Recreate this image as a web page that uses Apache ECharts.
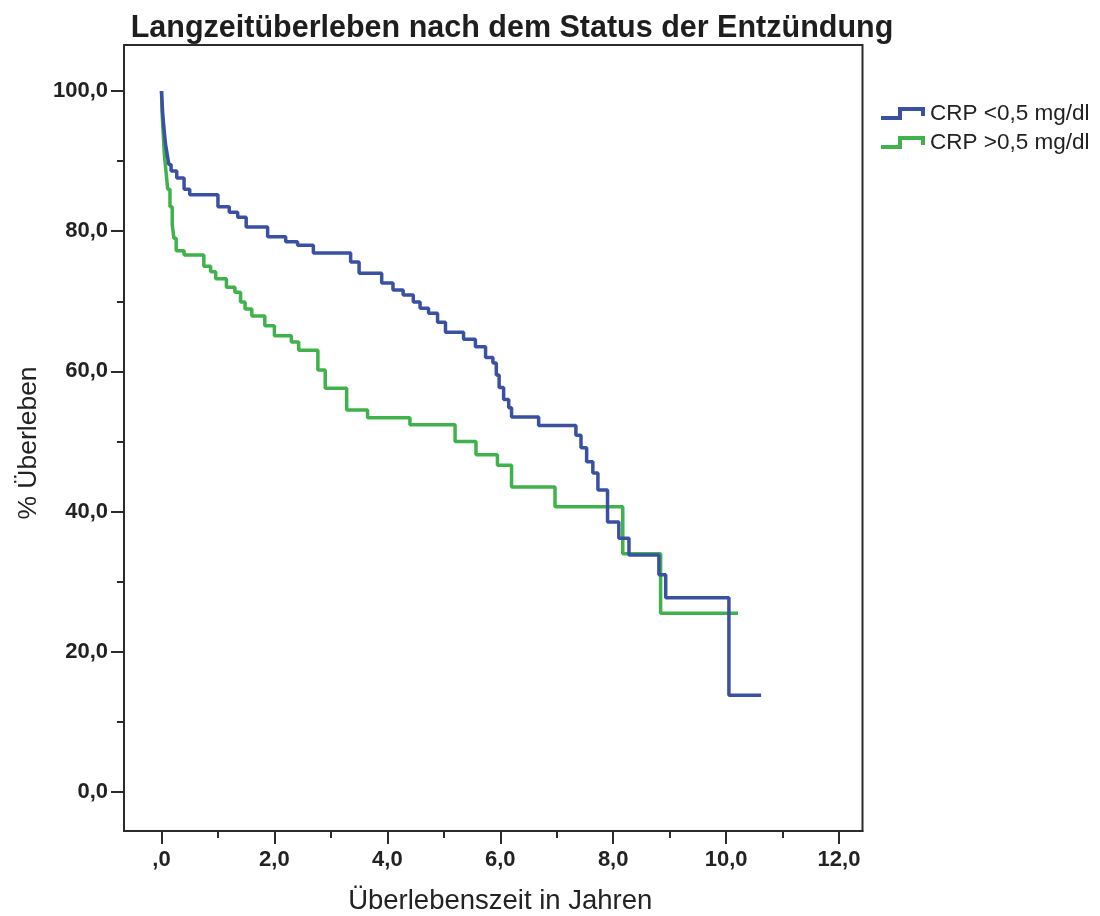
<!DOCTYPE html>
<html>
<head>
<meta charset="utf-8">
<script src="https://cdn.jsdelivr.net/npm/echarts@6/dist/echarts.min.js"></script>
<style>
html,body{margin:0;padding:0;background:#fff;}
#chart{width:1100px;height:916px;}
</style>
</head>
<body>
<div id="chart"></div>
<script>
// ---- Data ----
const seriesNames = ['CRP <0,5 mg/dl', 'CRP >0,5 mg/dl'];

// CRP <0,5 mg/dl : step drop times (years) and survival (%)
const blueTimes = [0, 0.02, 0.04, 0.07, 0.10, 0.13, 0.17, 0.27, 0.40, 0.50, 1.00, 1.20, 1.35, 1.50, 1.88, 2.20, 2.41, 2.69, 3.35, 3.50, 3.90, 4.10, 4.28, 4.46, 4.58, 4.73, 4.89, 5.03, 5.35, 5.56, 5.74, 5.87, 5.93, 5.98, 6.06, 6.15, 6.20, 6.68, 7.34, 7.43, 7.53, 7.64, 7.73, 7.90, 8.10, 8.28, 8.81, 8.93, 10.05, 10.62];
const blueSurv  = [100, 97, 95, 92.5, 91, 89.5, 88.6, 87.6, 86.0, 85.2, 83.5, 82.7, 82.0, 80.6, 79.2, 78.5, 78.0, 76.9, 75.6, 74.0, 72.6, 71.6, 70.9, 69.9, 69.0, 68.3, 67.0, 65.6, 64.6, 63.5, 62.0, 61.2, 59.5, 57.7, 56.0, 54.8, 53.5, 52.3, 50.9, 49.1, 47.1, 45.5, 43.1, 38.5, 36.2, 33.8, 31.0, 27.7, 13.8, 13.8];

// CRP >0,5 mg/dl
const greenTimes = [0, 0.01, 0.03, 0.05, 0.08, 0.11, 0.15, 0.19, 0.22, 0.26, 0.40, 0.75, 0.87, 0.96, 1.15, 1.30, 1.40, 1.48, 1.60, 1.83, 2.00, 2.30, 2.43, 2.77, 2.90, 3.28, 3.65, 4.40, 5.20, 5.57, 5.95, 6.20, 6.97, 8.17, 8.84, 10.21];
const greenSurv  = [100, 97, 94, 91, 88.5, 86, 83.5, 81, 79, 77.2, 76.6, 75.0, 74.2, 73.2, 72.0, 71.3, 69.9, 68.9, 67.9, 66.5, 65.1, 64.2, 63.0, 60.2, 57.6, 54.5, 53.4, 52.4, 50.0, 48.1, 46.6, 43.5, 40.7, 34.0, 25.5, 25.5];

// Axis ticks
const xMajorTicks = [0, 2, 4, 6, 8, 10, 12];
const xMinorTicks = [1, 3, 5, 7, 9, 11];
const yMajorTicks = [0, 20, 40, 60, 80, 100];
const yMinorTicks = [10, 30, 50, 70, 90];

const titleText = 'Langzeitüberleben nach dem Status der Entzündung';
const xTitle = 'Überlebenszeit in Jahren';
const yTitle = '% Überleben';

// ---- Chart ----
const FONT = '"Liberation Sans", Arial, sans-serif';
const BLUE = '#3a50a2';
const GREEN = '#3fb24c';
const AXIS = '#2b2b2b';

const zip = (a, b) => a.map((v, i) => [v, b[i]]);
const fmt = v => (v === 0 ? '0,0' : v.toFixed(1).replace('.', ','));
const fmtX = v => (v === 0 ? ',0' : v.toFixed(1).replace('.', ','));

const xMin = -0.664, xMax = 12.416;
const yMin = -5.56, yMax = 106.56;

const chart = echarts.init(document.getElementById('chart'), null, {renderer: 'canvas'});
chart.setOption({
  animation: false,
  backgroundColor: '#fff',
  textStyle: {fontFamily: FONT},
  title: {
    text: titleText,
    left: 507,
    textAlign: 'center',
    top: 8,
    textStyle: {fontFamily: FONT, fontWeight: 'bold', fontSize: 30.5, color: '#1e1e1e'}
  },
  legend: {
    data: seriesNames,
    orient: 'vertical',
    left: 876,
    top: 97,
    itemWidth: 44,
    itemHeight: 13,
    itemGap: 6,
    icon: 'path://M0,9L17,9L17,0L44,0L44,9L40,9L40,4L21,4L21,13L0,13Z',
    itemStyle: {borderWidth: 0},
    textStyle: {fontFamily: FONT, fontSize: 22.5, color: '#222'}
  },
  grid: {
    left: 124, right: 1100 - 862.5, top: 45, bottom: 916 - 831,
    outerBoundsMode: 'none', containLabel: false,
    show: true, borderColor: AXIS, borderWidth: 2, backgroundColor: 'transparent'
  },
  xAxis: [{
    type: 'value', min: xMin, max: xMax,
    name: xTitle, nameLocation: 'middle', nameGap: 56,
    nameTextStyle: {fontFamily: FONT, fontSize: 27.5, color: '#222', padding: [0, 0, 0, 14]},
    axisLine: {show: true, onZero: false, lineStyle: {color: AXIS, width: 2}},
    axisTick: {show: true, length: 13, lineStyle: {color: AXIS, width: 2}, customValues: xMajorTicks},
    axisLabel: {show: true, margin: 18, fontFamily: FONT, fontWeight: 'bold', fontSize: 22, color: '#222',
      customValues: xMajorTicks, formatter: fmtX},
    splitLine: {show: false}
  }, {
    type: 'value', min: xMin, max: xMax, position: 'bottom', gridIndex: 0,
    axisLine: {show: false, onZero: false},
    axisTick: {show: true, length: 7, lineStyle: {color: AXIS, width: 2}, customValues: xMinorTicks},
    axisLabel: {show: false},
    splitLine: {show: false}
  }],
  yAxis: [{
    type: 'value', min: yMin, max: yMax,
    name: yTitle, nameLocation: 'middle', nameGap: 82,
    nameTextStyle: {fontFamily: FONT, fontSize: 26.5, color: '#222', padding: [0, 10, 0, 0]},
    axisLine: {show: true, onZero: false, lineStyle: {color: AXIS, width: 2}},
    axisTick: {show: true, length: 13, lineStyle: {color: AXIS, width: 2}, customValues: yMajorTicks},
    axisLabel: {show: true, margin: 16, fontFamily: FONT, fontWeight: 'bold', fontSize: 22, color: '#222',
      customValues: yMajorTicks, formatter: fmt},
    splitLine: {show: false}
  }, {
    type: 'value', min: yMin, max: yMax, position: 'left', gridIndex: 0,
    axisLine: {show: false, onZero: false},
    axisTick: {show: true, length: 7, lineStyle: {color: AXIS, width: 2}, customValues: yMinorTicks},
    axisLabel: {show: false},
    splitLine: {show: false}
  }],
  series: [{
    name: seriesNames[1], type: 'line', step: 'end', showSymbol: false, symbol: 'none',
    color: GREEN, lineStyle: {color: GREEN, width: 3.5}, z: 2,
    data: zip(greenTimes, greenSurv)
  }, {
    name: seriesNames[0], type: 'line', step: 'end', showSymbol: false, symbol: 'none',
    color: BLUE, lineStyle: {color: BLUE, width: 3.5}, z: 3,
    data: zip(blueTimes, blueSurv)
  }]
});
</script>
</body>
</html>
